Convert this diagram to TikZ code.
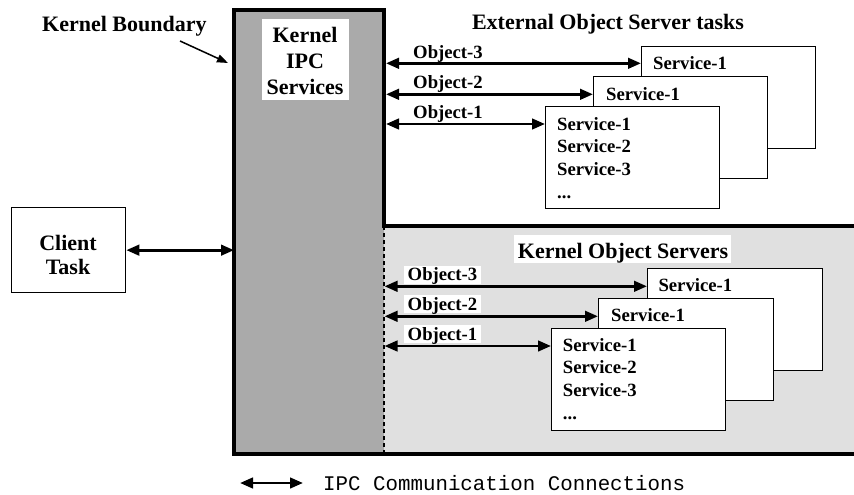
\documentclass[tikz,border=0pt]{standalone}
\usepackage{fontspec}
\setmainfont{Liberation Serif}
\setmonofont{Liberation Mono}
\usetikzlibrary{arrows.meta}
\definecolor{kgray}{HTML}{AAAAAA}
\definecolor{kosgray}{HTML}{E0E0E0}
\begin{document}
\begin{tikzpicture}[x=1pt,y=-1pt,
  ttl/.style={font=\bfseries\fontsize{22}{25}\selectfont, inner sep=0pt},
  itm/.style={font=\bfseries\fontsize{18.7}{22.7}\selectfont, inner sep=0pt, anchor=base west},
  lbl/.style={itm, fill=white, inner xsep=3.5pt, inner ysep=2pt, text height=13pt, text depth=1pt},
  srv/.style={draw, line width=1.3pt, fill=white, inner sep=0pt, minimum width=174pt, minimum height=102pt, anchor=north west},
  ipc/.style={line width=2.8pt, {Triangle[length=13pt,width=10.5pt]}-{Triangle[length=13pt,width=10.5pt]}},
  border/.style={line width=4pt, line join=miter},
]
\useasboundingbox (0,0) rectangle (854,495);

% areas
\node[fill=kgray, inner sep=0pt, minimum width=150pt, minimum height=444pt, anchor=north west] (kernel) at (234,10) {};
\node[fill=kosgray, inner sep=0pt, minimum width=470pt, minimum height=228pt, anchor=north west] (kosarea) at (384,226) {};
\draw[line width=2pt, dash pattern=on 4pt off 3pt] (kosarea.north west) -- (kosarea.south west);
\draw[border] (854,454) -- (234,454) -- (234,10) -- (384,10) -- (384,226) -- (854,226);

% kernel boundary label
\node[ttl, anchor=base west] (kb) at (42,32) {Kernel Boundary};
\coordinate (kbtail) at (180,41);
\coordinate (kbtip) at (228,63);
\draw[line width=1.5pt, -{Triangle[length=11pt,width=8pt]}] (kbtail) -- (kbtip);

% kernel IPC services
\node[fill=white, inner sep=0pt, minimum width=87pt, minimum height=81pt, anchor=north west] (ipcbox) at (262,19) {};
\node[ttl, anchor=base] (ipc1) at (305,42.7) {Kernel};
\node[ttl, anchor=base] (ipc2) at (305,69) {IPC};
\node[ttl, anchor=base] (ipc3) at (305,94.3) {Services};

% client
\node[draw, line width=1.3pt, inner sep=0pt, minimum width=114pt, minimum height=85pt, anchor=north west] (client) at (11,207) {};
\node[ttl, anchor=base] (cl1) at (68,250) {Client};
\node[ttl, anchor=base] (cl2) at (68,274) {Task};
\draw[ipc] (client.east) -- (client.east -| kernel.west);

% external object servers
\node[ttl, anchor=base] (exttitle) at (608,30) {External Object Server tasks};
\node[srv] (u3) at (641,46) {};
\node[itm] (u3a) at (653,70) {Service-1};
\node[srv] (u2) at (593,76) {};
\node[itm] (u2a) at (606,100) {Service-1};
\node[srv] (u1) at (545,106) {};
\node[itm] (u1a) at (557,130) {Service-1};
\node[itm] (u1b) at (557,152.7) {Service-2};
\node[itm] (u1c) at (557,175.3) {Service-3};
\node[itm] (u1d) at (557,198) {...};

\coordinate (ue3) at (386,63.3);
\coordinate (ue2) at (386,94.3);
\coordinate (ue1) at (386,124);
\draw[ipc] (ue3) -- (ue3 -| u3.west);
\draw[ipc] (ue2) -- (ue2 -| u2.west);
\draw[ipc] (ue1) -- (ue1 -| u1.west);
\node[itm] (uo3) at (413,58.3) {Object-3};
\node[itm] (uo2) at (413,88.3) {Object-2};
\node[itm] (uo1) at (413,118) {Object-1};

% kernel object servers
\node[fill=white, inner sep=0pt, minimum width=217pt, minimum height=28.5pt, anchor=north west] (kosbox) at (514,234.7) {};
\node[ttl, anchor=base] (kostitle) at (623,258.7) {Kernel Object Servers};
\node[srv, minimum width=175pt] (k3) at (647,268) {};
\node[itm] (k3a) at (658.3,291.7) {Service-1};
\node[srv, minimum width=175pt] (k2) at (598,298) {};
\node[itm] (k2a) at (611,321.7) {Service-1};
\node[srv] (k1) at (551,328) {};
\node[itm] (k1a) at (562.7,351.7) {Service-1};
\node[itm] (k1b) at (562.7,373.8) {Service-2};
\node[itm] (k1c) at (562.7,396.7) {Service-3};
\node[itm] (k1d) at (562.7,419) {...};

\coordinate (ke3) at (384.5,286.3);
\coordinate (ke2) at (384.5,316.3);
\coordinate (ke1) at (384.5,346);
\draw[ipc] (ke3) -- (ke3 -| k3.west);
\draw[ipc] (ke2) -- (ke2 -| k2.west);
\draw[ipc] (ke1) -- (ke1 -| k1.west);
\node[lbl] (ko3) at (404,280.7) {Object-3};
\node[lbl] (ko2) at (404,310) {Object-2};
\node[lbl] (ko1) at (404,340) {Object-1};

% legend
\coordinate (lga) at (240,483);
\coordinate (lgb) at (303,483);
\draw[ipc] (lga) -- (lgb);
\node[font=\ttfamily\fontsize{20.8}{24}\selectfont, inner sep=0pt, anchor=base west] (legend) at (323,490) {IPC Communication Connections};
\end{tikzpicture}
\end{document}
